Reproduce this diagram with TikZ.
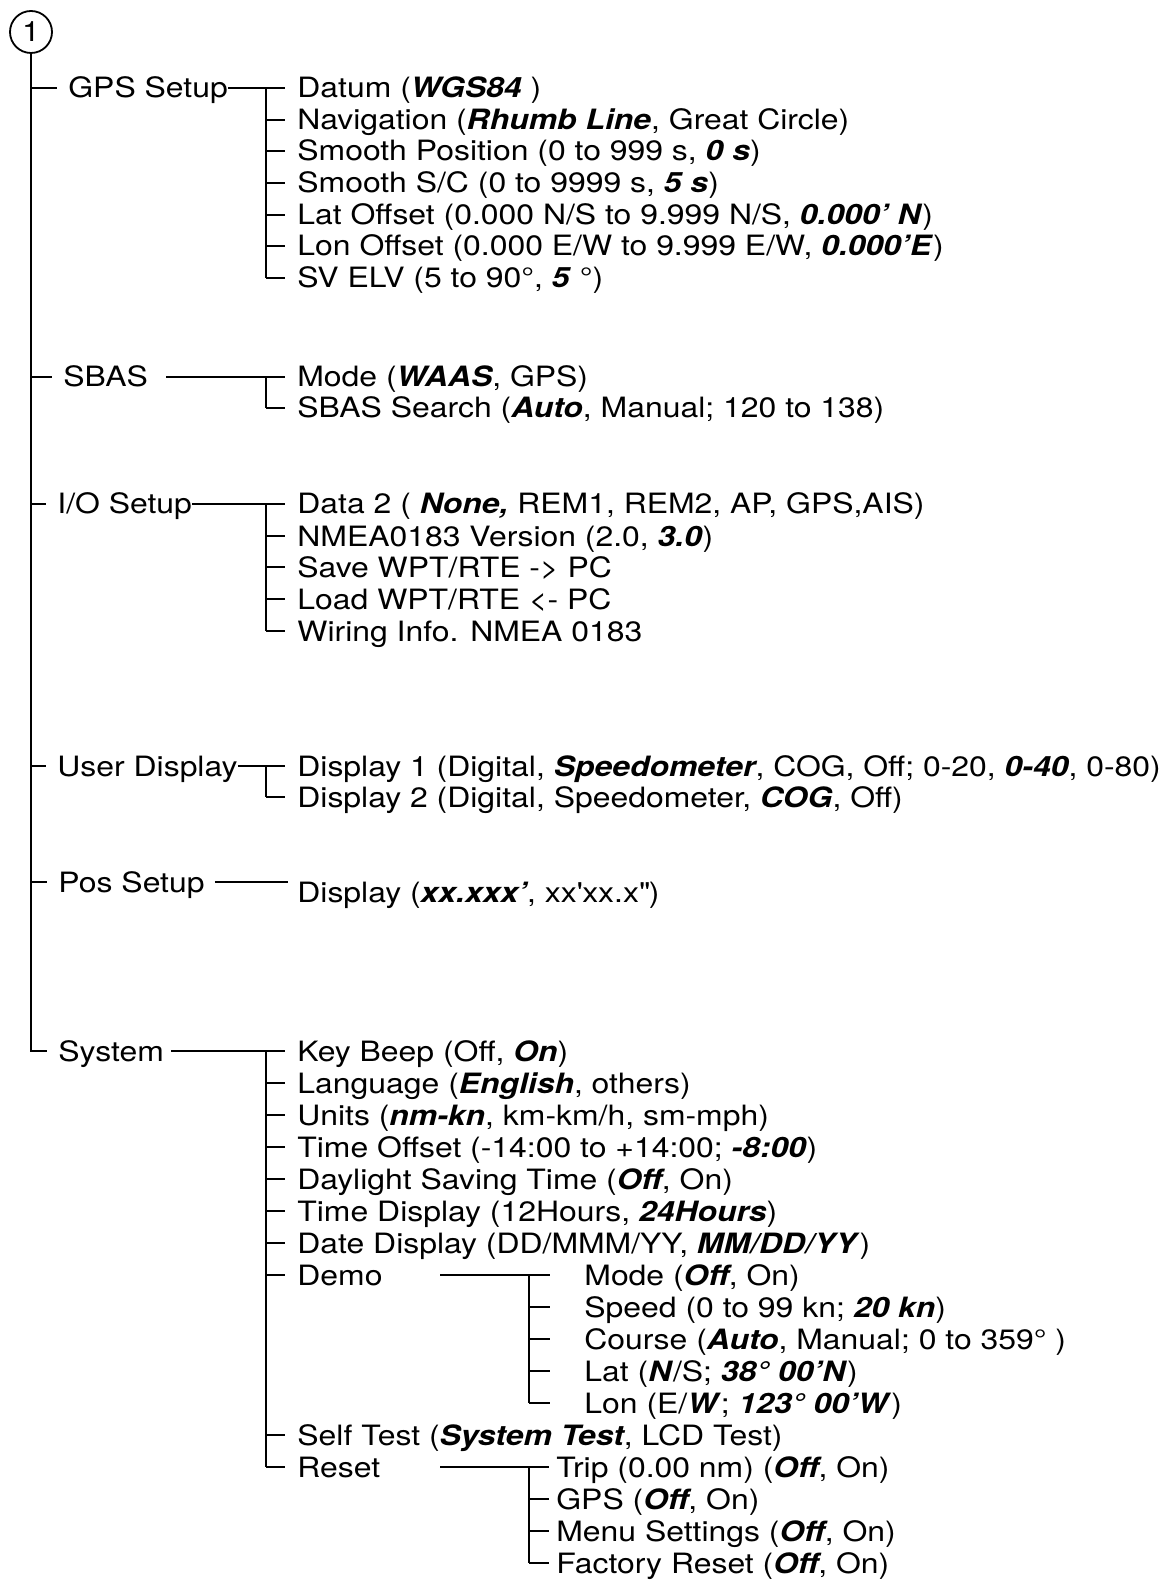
\documentclass[tikz,border=0pt]{standalone}
\usepackage{fontspec}
\setmainfont[FakeStretch=1.14]{TeX Gyre Heros}
\usepackage{tikz}
\usetikzlibrary{positioning,calc}
\newcommand{\dflt}[1]{\textbf{\itshape #1}}
\tikzset{
  menu/.style = {anchor=west, inner xsep=0pt, inner ysep=0pt, text height=10pt,
                 text depth=0pt, font=\fontsize{14}{16}\selectfont},
  ln/.style   = {line width=1.1pt},
  num/.style  = {draw, circle, line width=0.9pt, minimum size=21pt, inner sep=0pt,
                 font=\fontsize{14}{16}\selectfont},
}
\begin{document}
\begin{tikzpicture}[x=0.5pt,y=-0.5pt]
  \useasboundingbox (0,0) rectangle (1168,1582);
  \coordinate (bar) at (266,0);
  \coordinate (dbar) at (529,0);
  \coordinate (dstart) at (440,0);
  \node[num] (one) at (31,32) {1};
  % first level
  \node[menu] (gps)  at (68,88)   {GPS Setup};
  \node[menu] (sbas) at (63,377)  {SBAS};
  \node[menu] (io)   at (57,504)  {I/O Setup};
  \node[menu] (user) at (57,766)  {User Display};
  \node[menu] (pos)  at (58,882)  {Pos Setup};
  \node[menu] (sys)  at (58,1051) {System};
  % gps setup
  \node[menu] (datum) at (297,88)  {Datum (\dflt{WGS84} )};
  \node[menu] (nav)   at (297,120) {Navigation (\dflt{Rhumb Line}, Great Circle)};
  \node[menu] (smpos) at (297,151) {Smooth Position (0 to 999 s, \dflt{0 s})};
  \node[menu] (smsc)  at (297,183) {Smooth S/C (0 to 9999 s, \dflt{5 s})};
  \node[menu] (latof) at (297,215) {Lat Offset (0.000 N/S to 9.999 N/S, \dflt{0.000’ N})};
  \node[menu] (lonof) at (297,246) {Lon Offset (0.000 E/W to 9.999 E/W, \dflt{0.000’E})};
  \node[menu] (svelv) at (297,278) {SV ELV (5 to 90°, \dflt{5} °)};
  % sbas
  \node[menu] (mode)   at (297,377) {Mode (\dflt{WAAS}, GPS)};
  \node[menu] (search) at (297,408) {SBAS Search (\dflt{Auto}, Manual; 120 to 138)};
  % i/o setup
  \node[menu] (data2) at (297,504) {Data 2 ( \dflt{None,} REM1, REM2, AP, GPS,AIS)};
  \node[menu] (nmea)  at (297,536) {NMEA0183 Version (2.0, \dflt{3.0})};
  \node[menu] (save)  at (297,567) {Save WPT/RTE -> PC};
  \node[menu] (load)  at (297,599) {Load WPT/RTE <- PC};
  \node[menu] (wire)  at (297,631) {Wiring Info. NMEA 0183};
  % user display
  \node[menu] (disp1) at (297,766) {Display 1 (Digital, \dflt{Speedometer}, COG, Off; 0-20, \dflt{0-40}, 0-80)};
  \node[menu] (disp2) at (297,797) {Display 2 (Digital, Speedometer, \dflt{COG}, Off)};
  % pos setup
  \node[menu] (posd) at (297,892) {Display (\dflt{xx.xxx’}, xx\textquotesingle xx.x\textquotedbl)};
  % system
  \node[menu] (beep)  at (297,1051) {Key Beep (Off, \dflt{On})};
  \node[menu] (lang)  at (297,1083) {Language (\dflt{English}, others)};
  \node[menu] (units) at (297,1115) {Units (\dflt{nm-kn}, km-km/h, sm-mph)};
  \node[menu] (toff)  at (297,1147) {Time Offset (-14:00 to +14:00; \dflt{-8:00})};
  \node[menu] (dst)   at (297,1179) {Daylight Saving Time (\dflt{Off}, On)};
  \node[menu] (tdisp) at (297,1211) {Time Display (12Hours, \dflt{24Hours})};
  \node[menu] (ddisp) at (297,1243) {Date Display (DD/MMM/YY, \dflt{MM/DD/YY})};
  \node[menu] (demo)  at (297,1275) {Demo};
  \node[menu] (stest) at (297,1435) {Self Test (\dflt{System Test}, LCD Test)};
  \node[menu] (reset) at (297,1467) {Reset};
  % demo
  \node[menu] (dmode)  at (584,1275) {Mode (\dflt{Off}, On)};
  \node[menu] (dspeed) at (584,1307) {Speed (0 to 99 kn; \dflt{20 kn})};
  \node[menu] (dcrs)   at (584,1339) {Course (\dflt{Auto}, Manual; 0 to 359° )};
  \node[menu] (dlat)   at (584,1371) {Lat (\dflt{N}/S; \dflt{38° 00’N})};
  \node[menu] (dlon)   at (584,1403) {Lon (E/\dflt{W}; \dflt{123° 00’W})};
  % reset
  \node[menu] (trip)  at (556,1467) {Trip (0.00 nm) (\dflt{Off}, On)};
  \node[menu] (rgps)  at (556,1499) {GPS (\dflt{Off}, On)};
  \node[menu] (rmenu) at (556,1531) {Menu Settings (\dflt{Off}, On)};
  \node[menu] (rfact) at (556,1563) {Factory Reset (\dflt{Off}, On)};

  % trunk
  \draw[ln] (one.south) -- (one.south |- sys.west) -- ([xshift=-5.5pt]sys.west);
  \foreach \n in {gps,sbas,io,user,pos}
    \draw[ln] (one.south |- \n.west) -- ([xshift=-5.5pt]\n.west);
  % branches
  \draw[ln] (gps.east) -- (gps.east -| bar) -- (svelv.west -| bar);
  \draw[ln] ([xshift=9pt]sbas.east) -- (sbas.east -| bar) -- (search.west -| bar);
  \draw[ln] (io.east) -- (io.east -| bar) -- (wire.west -| bar);
  \draw[ln] (user.east) -- (user.east -| bar) -- (disp2.west -| bar);
  \draw[ln] ([xshift=5pt]pos.east) -- ([xshift=-4.5pt]pos.east -| posd.west);
  \draw[ln] ([xshift=3.5pt]sys.east) -- (sys.east -| bar) -- (reset.west -| bar);
  \foreach \n in {datum,nav,smpos,smsc,latof,lonof,svelv,mode,search,data2,nmea,save,load,wire,
                  disp1,disp2,beep,lang,units,toff,dst,tdisp,ddisp,demo,stest,reset}
    \draw[ln] (\n.west -| bar) -- ([xshift=-6pt]\n.west);
  \draw[ln] (dstart |- demo.west) -- (demo.west -| dbar) -- (dlon.west -| dbar);
  \foreach \n in {dmode,dspeed,dcrs,dlat,dlon}
    \draw[ln] (\n.west -| dbar) -- ([xshift=-17pt]\n.west);
  \draw[ln] (dstart |- reset.west) -- (reset.west -| dbar) -- (rfact.west -| dbar);
  \foreach \n in {trip,rgps,rmenu,rfact}
    \draw[ln] (\n.west -| dbar) -- ([xshift=-3.5pt]\n.west);
\end{tikzpicture}
\end{document}
